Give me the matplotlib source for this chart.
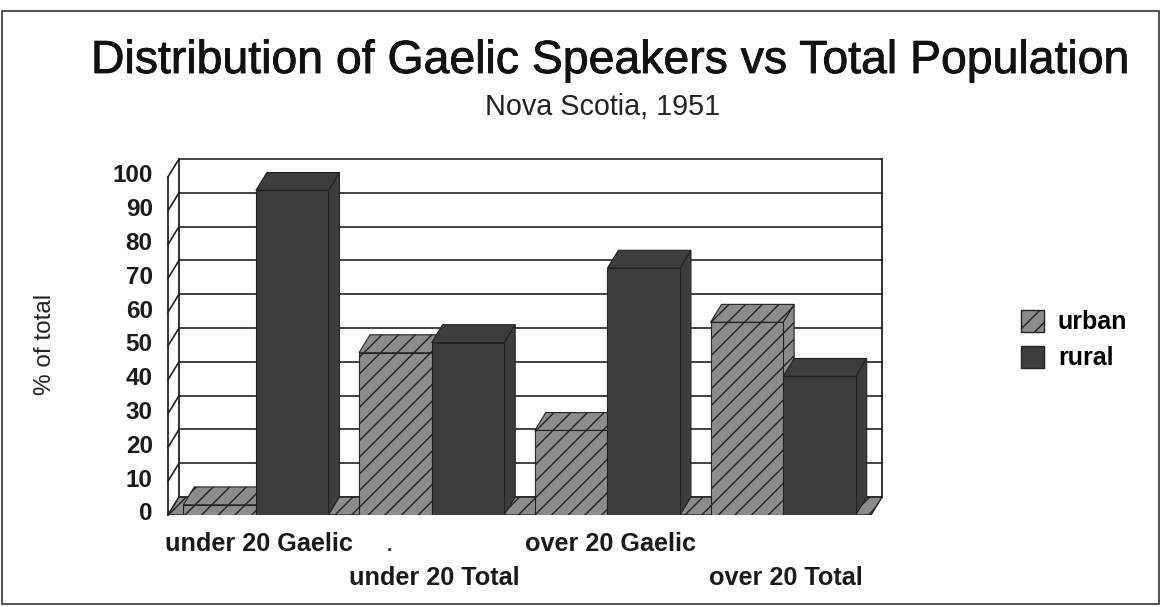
import matplotlib
matplotlib.use("Agg")
import matplotlib.pyplot as plt
import matplotlib.patheffects as pe
from matplotlib.patches import Patch, Polygon, Rectangle
from matplotlib.transforms import ScaledTranslation

categories = ["under 20 Gaelic", "under 20 Total", "over 20 Gaelic", "over 20 Total"]
urban = [3, 48, 25, 57]
rural = [96, 51, 73, 41]
yticks = list(range(0, 101, 10))

W, H = 1164, 607
DEPTH_X = 0.0625
DEPTH_Y = 5.3
BAR_W = 0.413
URBAN = "#8c8c8c"
RURAL = "#3d3d3d"

plt.rcParams["font.family"] = ["Liberation Sans", "DejaVu Sans"]
plt.rcParams["hatch.linewidth"] = 1.0

fig = plt.figure(figsize=(W / 100, H / 100), dpi=100, facecolor="#fefefe")
ax = fig.add_axes([168 / W, 1 - 515 / H, 714 / W, 356 / H])
ax.patch.set_visible(False)
ax.set_xlim(0, 4 + DEPTH_X)
ax.set_ylim(0, 100 + DEPTH_Y)
for s in ax.spines.values():
    s.set_visible(False)


def bar3d(x, val, color, hatch):
    x2 = x + BAR_W
    side = Polygon([(x2, 0), (x2 + DEPTH_X, DEPTH_Y), (x2 + DEPTH_X, val + DEPTH_Y), (x2, val)],
                   facecolor=color, edgecolor="#222222", lw=0.8, hatch=hatch, zorder=3)
    top = Polygon([(x, val), (x + DEPTH_X, val + DEPTH_Y), (x2 + DEPTH_X, val + DEPTH_Y), (x2, val)],
                  facecolor=color, edgecolor="#222222", lw=0.8, hatch=hatch, zorder=3)
    ax.add_patch(side)
    ax.add_patch(top)
    ax.bar(x, val, BAR_W, align="edge", color=color, edgecolor="#222222", lw=0.8, hatch=hatch, zorder=3)


# back wall and side wall
for t in yticks:
    ax.plot([0, DEPTH_X], [t, t + DEPTH_Y], color="#222222", lw=1.2, clip_on=False, zorder=1)
    ax.plot([DEPTH_X, 4 + DEPTH_X], [t + DEPTH_Y, t + DEPTH_Y], color="#222222", lw=1.2, clip_on=False, zorder=1)
ax.plot([0, 0], [0, 100], color="#222222", lw=1.3, clip_on=False, zorder=1)
ax.plot([DEPTH_X, DEPTH_X], [DEPTH_Y, 100 + DEPTH_Y], color="#222222", lw=1.3, clip_on=False, zorder=1)
ax.plot([4 + DEPTH_X, 4 + DEPTH_X], [DEPTH_Y, 100 + DEPTH_Y], color="#222222", lw=1.3, clip_on=False, zorder=1)

# floor
ax.add_patch(Polygon([(0, 0), (DEPTH_X, DEPTH_Y), (4 + DEPTH_X, DEPTH_Y), (4, 0)],
                     facecolor=URBAN, edgecolor="#222222", lw=1.0, hatch="//", zorder=2))

for i in range(len(categories)):
    start = i + 0.5 - BAR_W
    bar3d(start, urban[i], URBAN, "//")
    bar3d(start + BAR_W, rural[i], RURAL, None)

ax.set_yticks(yticks)
ax.set_yticklabels([str(t) for t in yticks], fontsize=17.5, fontweight="bold", color="#1a1a1a")
ax.tick_params(axis="y", length=0, pad=11)
# labels sit a little above their gridline in the reference
up = ScaledTranslation(0, 3.5 / 100, fig.dpi_scale_trans)
for lab in ax.get_yticklabels():
    lab.set_transform(lab.get_transform() + up)

ax.set_xticks([i + 0.515 for i in range(len(categories))])
ax.set_xticklabels(categories, fontsize=18.2, fontweight="bold", color="#1a1a1a")
ax.tick_params(axis="x", length=0, pad=12)
# staggered category labels
for tick in ax.xaxis.get_major_ticks()[1::2]:
    tick.set_pad(36.5)

fig.text(45 / W, 1 - 344 / H, "% of total", rotation=90, ha="center", va="center", fontsize=17.5, color="#222222")
title = fig.text(611 / W, 1 - 61 / H, "Distribution of Gaelic Speakers vs Total Population",
                 ha="center", va="center", fontsize=33.4, color="#111111")
title.set_path_effects([pe.withStroke(linewidth=0.6, foreground="#111111")])
fig.text(603 / W, 1 - 107 / H, "Nova Scotia, 1951", ha="center", va="center", fontsize=20.7, color="#222222")
fig.text(389 / W, 1 - 551 / H, ".", ha="center", va="baseline", fontsize=14, fontweight="bold", color="#222222")

handles = [Patch(facecolor=URBAN, edgecolor="#222222", hatch="//", label="urban"),
           Patch(facecolor=RURAL, edgecolor="#222222", label="rural")]
fig.legend(handles=handles, loc="center left", bbox_to_anchor=(1016 / W, 1 - 340 / H), frameon=False,
           prop={"size": 18, "weight": "bold"}, handlelength=0.92, handleheight=1.0,
           handletextpad=0.55, labelspacing=0.45, borderpad=0.2, borderaxespad=0)

fig.add_artist(Rectangle((2 / W, 1 - 604 / H), 1157 / W, 593 / H, transform=fig.transFigure,
                         fill=False, edgecolor="#333333", lw=1.2))

fig.savefig("out.png", dpi=100, facecolor=fig.get_facecolor())
plt.close(fig)
